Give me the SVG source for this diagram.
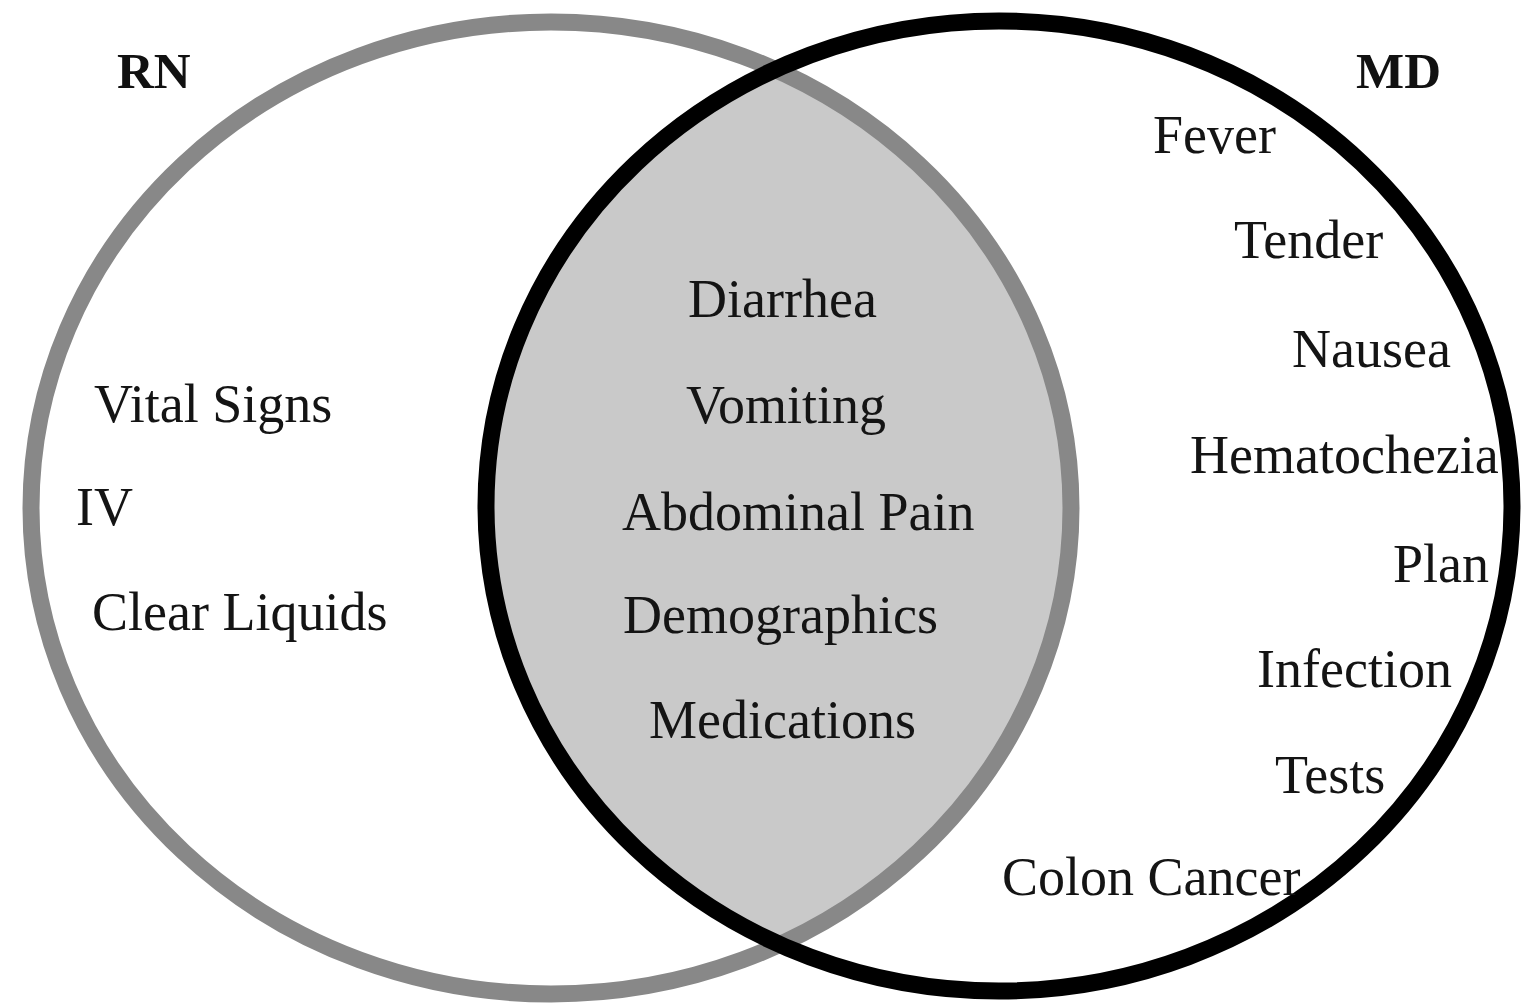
<svg xmlns="http://www.w3.org/2000/svg" width="1523" height="1006" viewBox="0 0 1523 1006">
<style>
.t{font-family:"Liberation Serif","Times New Roman",serif;font-size:54px;fill:#141414}
.h{font-family:"Liberation Serif","Times New Roman",serif;font-size:51px;font-weight:bold;fill:#111}
</style>
<defs>
<clipPath id="clipRN"><ellipse cx="551" cy="508" rx="520" ry="486"/></clipPath>
</defs>
<rect width="1523" height="1006" fill="#ffffff"/>
<g id="overlap">
<ellipse cx="999" cy="506" rx="513" ry="485" fill="#c9c9c9" clip-path="url(#clipRN)"/>
</g>
<g id="connectors"></g>
<g id="RN">
<ellipse cx="551" cy="508" rx="520" ry="486" fill="none" stroke="#888888" stroke-width="17"/>
<text class="h" x="117" y="88">RN</text>
<text class="t" x="94" y="422">Vital Signs</text>
<text class="t" x="76" y="525">IV</text>
<text class="t" x="92" y="630">Clear Liquids</text>
</g>
<g id="MD">
<ellipse cx="999" cy="506" rx="513" ry="485" fill="none" stroke="#000000" stroke-width="17"/>
<text class="h" x="1356" y="88">MD</text>
<text class="t" x="1153" y="153">Fever</text>
<text class="t" x="1234" y="258">Tender</text>
<text class="t" x="1292" y="367">Nausea</text>
<text class="t" x="1190" y="473">Hematochezia</text>
<text class="t" x="1393" y="582">Plan</text>
<text class="t" x="1257" y="687">Infection</text>
<text class="t" x="1275" y="793">Tests</text>
<text class="t" x="1002" y="895">Colon Cancer</text>
</g>
<g id="shared">
<text class="t" x="688" y="317">Diarrhea</text>
<text class="t" x="686" y="423">Vomiting</text>
<text class="t" x="622" y="530">Abdominal Pain</text>
<text class="t" x="623" y="633">Demographics</text>
<text class="t" x="649" y="738">Medications</text>
</g>
</svg>
